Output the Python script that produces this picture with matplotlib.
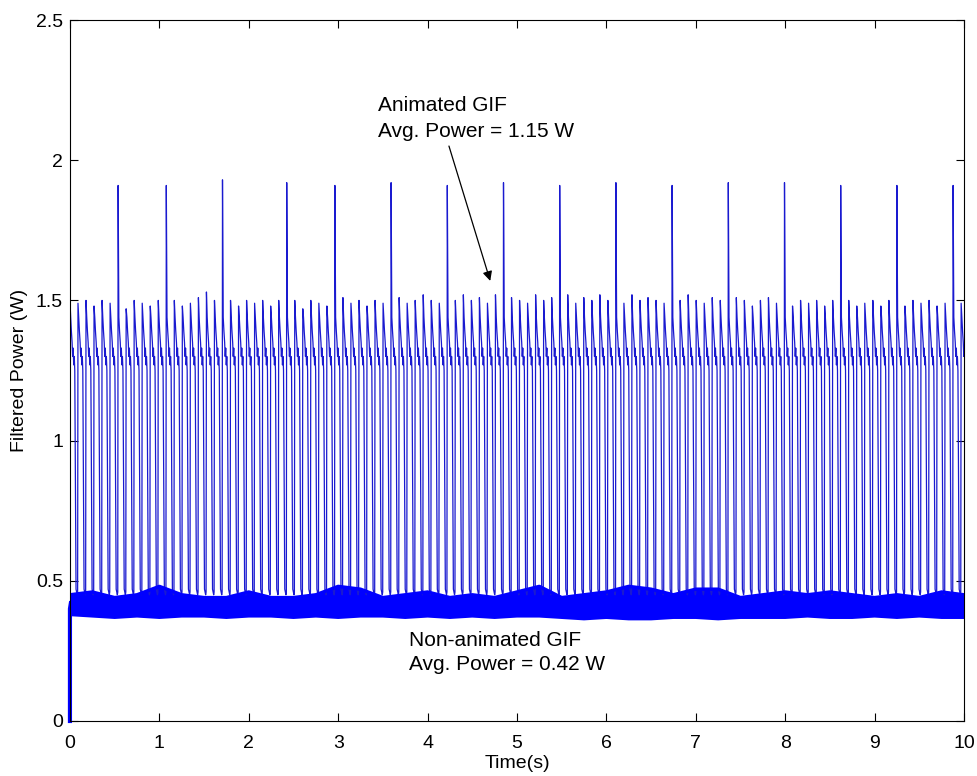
import numpy as np
import matplotlib
matplotlib.use("Agg")
import matplotlib.pyplot as plt

plt.rcParams['font.family'] = ['Liberation Sans', 'DejaVu Sans']

# animated GIF trace: one cycle shape (offset in s, power in W), repeated every period
period = 0.0898
first_cycle = -0.004
cycle_offsets = [0.000, 0.004, 0.012, 0.020, 0.028, 0.034, 0.040, 0.046, 0.052, 0.058, 0.066, 0.072, 0.085]
cycle_values = [0.46, 1.50, 1.44, 1.39, 1.35, 1.30, 1.33, 1.27, 1.30, 1.25, 0.80, 0.47, 0.45]

# peak height of each cycle
cycle_peaks = [1.50, 1.49, 1.50, 1.48, 1.50, 1.49, 1.50, 1.47, 1.50, 1.49,
               1.48, 1.50, 1.49, 1.50, 1.48, 1.49, 1.51, 1.53, 1.50, 1.49,
               1.50, 1.48, 1.50, 1.49, 1.50, 1.48, 1.50, 1.49, 1.50, 1.47,
               1.50, 1.49, 1.48, 1.50, 1.51, 1.49, 1.50, 1.48, 1.50, 1.49,
               1.50, 1.51, 1.49, 1.50, 1.52, 1.50, 1.49, 1.51, 1.50, 1.52,
               1.50, 1.51, 1.49, 1.52, 1.50, 1.51, 1.50, 1.49, 1.52, 1.50,
               1.51, 1.50, 1.52, 1.49, 1.51, 1.50, 1.52, 1.50, 1.51, 1.49,
               1.52, 1.50, 1.51, 1.50, 1.49, 1.51, 1.50, 1.52, 1.50, 1.49,
               1.51, 1.50, 1.49, 1.51, 1.50, 1.48, 1.50, 1.51, 1.49, 1.50,
               1.48, 1.50, 1.49, 1.50, 1.48, 1.50, 1.49, 1.50, 1.48, 1.49,
               1.50, 1.48, 1.50, 1.49, 1.48, 1.50, 1.49, 1.50, 1.48, 1.49,
               1.50, 1.49]

# tall spikes (time in s, height in W)
spike_times = [0.570, 1.096, 1.734, 2.383, 2.987, 3.635, 4.239, 4.888,
               5.503, 6.119, 6.723, 7.383, 7.998, 8.635, 9.228, 9.843]
spike_heights = [1.91, 1.91, 1.93, 1.92, 1.91, 1.92, 1.91, 1.92,
                 1.91, 1.92, 1.91, 1.92, 1.92, 1.91, 1.91, 1.91]

# non-animated GIF trace: band envelope sampled every 0.25 s
band_t = [0.00, 0.25, 0.50, 0.75, 1.00, 1.25, 1.50, 1.75, 2.00, 2.25,
          2.50, 2.75, 3.00, 3.25, 3.50, 3.75, 4.00, 4.25, 4.50, 4.75,
          5.00, 5.25, 5.50, 5.75, 6.00, 6.25, 6.50, 6.75, 7.00, 7.25,
          7.50, 7.75, 8.00, 8.25, 8.50, 8.75, 9.00, 9.25, 9.50, 9.75, 10.00]
band_upper = [0.45, 0.46, 0.44, 0.45, 0.48, 0.45, 0.44, 0.44, 0.46, 0.44,
              0.44, 0.45, 0.48, 0.47, 0.44, 0.45, 0.46, 0.44, 0.45, 0.44,
              0.46, 0.48, 0.44, 0.45, 0.46, 0.48, 0.47, 0.45, 0.47, 0.47,
              0.44, 0.45, 0.46, 0.45, 0.46, 0.45, 0.44, 0.45, 0.44, 0.46, 0.45]
band_lower = [0.38, 0.375, 0.37, 0.375, 0.37, 0.375, 0.375, 0.37, 0.375, 0.375,
              0.37, 0.375, 0.37, 0.375, 0.375, 0.37, 0.375, 0.37, 0.375, 0.37,
              0.375, 0.375, 0.37, 0.365, 0.37, 0.365, 0.365, 0.37, 0.37, 0.365,
              0.37, 0.37, 0.37, 0.375, 0.37, 0.37, 0.375, 0.37, 0.375, 0.37, 0.37]
start_t = [0.0, 0.0, 0.01]
start_v = [0.0, 0.40, 0.42]

# build the animated trace from the cycle shape
t_anim = []
p_anim = []
for i, pk in enumerate(cycle_peaks):
    t0 = first_cycle + i * period
    vals = list(cycle_values)
    vals[1] = pk
    for dt, v in zip(cycle_offsets, vals):
        t_anim.append(t0 + dt)
        p_anim.append(v)
t_anim = np.array(t_anim)
p_anim = np.array(p_anim)
# put the spikes on the nearest cycle peak
is_peak = (np.arange(len(t_anim)) % len(cycle_offsets)) == 1
for st, sh in zip(spike_times, spike_heights):
    idx = np.argmin(np.abs(t_anim - st) + (~is_peak) * 10)
    p_anim[idx] = sh

fig = plt.figure(figsize=(9.77, 7.76), dpi=100)
ax = fig.add_axes([0.0716, 0.0709, 0.9151, 0.9033])

ax.plot(t_anim, p_anim, color='#1a1ad0', lw=0.9)
ax.fill_between(band_t, band_lower, band_upper, color='#0000ff', lw=0)
ax.plot(band_t, band_upper, color='#0000ff', lw=2.5)
ax.plot(band_t, band_lower, color='#0000ff', lw=2.5)
ax.plot(start_t, start_v, color='#0000ff', lw=3, clip_on=False)

ax.set_xlim(0, 10)
ax.set_ylim(0, 2.5)
ax.set_xticks(range(0, 11))
ax.set_yticks([0, 0.5, 1, 1.5, 2, 2.5])
ax.set_yticklabels(['0', '0.5', '1', '1.5', '2', '2.5'])
ax.tick_params(direction='in', top=True, right=True, labelsize=14, length=6)
ax.tick_params(axis='x', pad=10)
ax.tick_params(axis='y', pad=5)
ax.set_xlabel('Time(s)', fontsize=14, labelpad=2)
ax.set_ylabel('Filtered Power (W)', fontsize=14, labelpad=6)

ax.text(3.44, 2.15, 'Animated GIF\nAvg. Power = 1.15 W', fontsize=15, va='center', ha='left',
        linespacing=1.45)
ax.annotate('', xy=(4.71, 1.56), xytext=(4.23, 2.06),
            arrowprops=dict(arrowstyle='-|>', color='black', lw=0.9, mutation_scale=14))
ax.text(3.79, 0.244, 'Non-animated GIF\nAvg. Power = 0.42 W', fontsize=15, va='center', ha='left',
        linespacing=1.35)

fig.savefig('out.png', dpi=100)
